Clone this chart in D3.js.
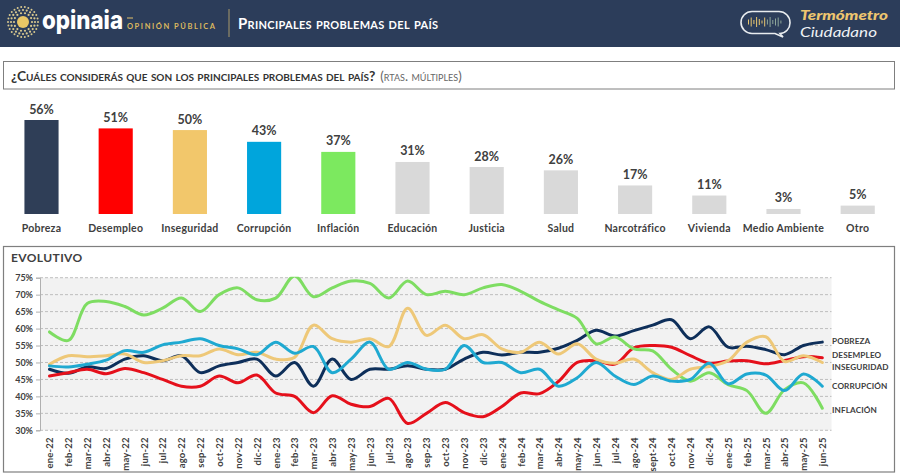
<!DOCTYPE html>
<html lang="es">
<head>
<meta charset="utf-8">
<title>Principales problemas del país</title>
<script src="https://cdn.jsdelivr.net/npm/d3@7/dist/d3.min.js"></script>
<style>
  html, body { margin: 0; padding: 0; background: #fff; }
  svg { display: block; font-family: Lato, "Open Sans", sans-serif; }
</style>
</head>
<body>
<svg id="chart" width="900" height="476"></svg>
<script>
// Current wave: share of mentions per problem
const problems = ["Pobreza", "Desempleo", "Inseguridad", "Corrupción", "Inflación", "Educación", "Justicia", "Salud", "Narcotráfico", "Vivienda", "Medio Ambiente", "Otro"];
const problemValues = [56, 51, 50, 43, 37, 31, 28, 26, 17, 11, 3, 5];
const problemColors = ["#2f3e57", "#ff0000", "#f2c76b", "#00a5dc", "#7ce95f", "#d9d9d9", "#d9d9d9", "#d9d9d9", "#d9d9d9", "#d9d9d9", "#d9d9d9", "#d9d9d9"];

// Monthly tracking
const months = ["ene-22","feb-22","mar-22","abr-22","may-22","jun-22","jul-22","ago-22","sep-22","oct-22","nov-22","dic-22",
  "ene-23","feb-23","mar-23","abr-23","may-23","jun-23","jul-23","ago-23","sep-23","oct-23","nov-23","dic-23",
  "ene-24","feb-24","mar-24","abr-24","may-24","jun-24","jul-24","ago-24","sept-24","oct-24","nov-24","dic-24",
  "ene-25","feb-25","mar-25","abr-25","may-25","jun-25"];
const pobreza = [48,46.8,48.7,48.2,51,52,50.5,52,47,49,50,51,46,50,43,51,45,48,48,49,48,48,51,53,52.2,53,53,54.2,56.5,59.5,57.8,59.4,61,62.6,57,60.5,54.5,54.8,53.8,52.3,55,56];
const desempleo = [46,47,48,46.7,48.2,47,45,43,43,46,44,46.3,41,40,35.2,40.2,37.7,37,39.4,32,35,38.2,35.2,34,37,41,40.8,44.4,50,50.5,49.5,54.3,55,54.5,52,49.8,50.4,50.5,49.6,50.6,51.7,51.4];
const inseguridad = [49.5,52,51.7,52,52.5,50,50.5,52,52,54,52.3,53,51,51.5,61,57,56,57,54.7,66,58,61,57,58.2,54,53,56,52.5,55.5,51,49.8,51,47,45,48,48.8,50.5,56,57.6,50.3,52,50];
const corrupcion = [49,48.7,49.5,50.7,53.5,53,55.2,56,57,55,54,52.3,56,52.7,54.7,47,51,56,48,50,48,48,55,50,50,47,48,43,45.5,50,46,43.5,46,44.5,45,49.8,43.7,46.6,46.3,41.7,46.6,43];
const inflacion = [59,56.5,67.4,68,66.5,64,66,69,65,70,72,68.5,69,75.5,69.4,72,74,73.3,69,74,70,71,70,72,73,71,68,65.5,63,55.5,57.5,54,53.4,48,44.5,47,43.5,41.7,35,42,44,36.5];

const trendSeries = [
  { name: "POBREZA", values: pobreza, color: "#0e2f5a", labelY: 341.5 },
  { name: "DESEMPLEO", values: desempleo, color: "#e5101b", labelY: 355.5 },
  { name: "INFLACIÓN", values: inflacion, color: "#7edd62", labelY: 410 },
  { name: "INSEGURIDAD", values: inseguridad, color: "#eec878", labelY: 367.5 },
  { name: "CORRUPCIÓN", values: corrupcion, color: "#1fa9d1", labelY: 386.5 }
];
const yTicks = [30, 35, 40, 45, 50, 55, 60, 65, 70, 75];

const svg = d3.select("#chart");
const ink = "#404040";

/* ---------- header band ---------- */
const header = svg.append("g");
header.append("rect").attr("width", 900).attr("height", 47).attr("fill", "#2c3d5a");

// Sun emblem: rings of small dots around a warm core
const sun = header.append("g").attr("transform", "translate(23,22)");
sun.append("circle").attr("r", 6).attr("fill", "#e9c766");
[[9, 14, 1.1], [12, 20, 1.1], [15, 26, 1]].forEach(([r, n, size]) => {
  sun.selectAll(null).data(d3.range(n)).join("circle")
    .attr("cx", i => r * Math.cos(i / n * 2 * Math.PI))
    .attr("cy", i => r * Math.sin(i / n * 2 * Math.PI))
    .attr("r", size).attr("fill", "#d9c98f");
});
header.append("text").attr("x", 42).attr("y", 29).attr("fill", "#fff")
  .attr("font-family", "Inter, Lato, sans-serif").attr("font-weight", 800).attr("font-size", 25.5)
  .attr("textLength", 81).attr("lengthAdjust", "spacingAndGlyphs").text("opinaia");
header.append("rect").attr("x", 127).attr("y", 17.5).attr("width", 6).attr("height", 1).attr("fill", "#e3c26a");
header.append("text").attr("x", 127).attr("y", 29).attr("fill", "#dcb95f")
  .attr("font-weight", 700).attr("font-size", 7.5).attr("textLength", 88).text("OPINIÓN PÚBLICA");
header.append("line").attr("x1", 229).attr("x2", 229).attr("y1", 9).attr("y2", 37)
  .attr("stroke", "#a89a6a").attr("stroke-width", 1);
header.append("text").attr("x", 238).attr("y", 29).attr("fill", "#fff")
  .attr("font-weight", 700).attr("font-size", 15).style("font-variant", "small-caps")
  .attr("textLength", 200).text("Principales problemas del país");

// "Termómetro Ciudadano" mark: speech bubble holding a small sound wave
header.append("path")
  .attr("d", "M752,11.5H779a11,11 0 0 1 11,11V23a10.5,10.5 0 0 1 -10,10.5L783,37L775,33.5H752a11,11 0 0 1 -11,-11a11,11 0 0 1 11,-11Z")
  .attr("fill", "none").attr("stroke", "#e8ecef").attr("stroke-width", 1.6);
const waveHeights = [5, 9, 4, 10, 6, 3, 9, 5, 10, 4, 7, 9, 3];
header.selectAll(null).data(waveHeights).join("line")
  .attr("x1", (d, i) => 748.5 + i * 2.7).attr("x2", (d, i) => 748.5 + i * 2.7)
  .attr("y1", d => 22 - d / 2).attr("y2", d => 22 + d / 2)
  .attr("stroke", (d, i) => i < 7 ? "#e8c66f" : "#8fa79a").attr("stroke-width", 1);
header.append("text").attr("x", 800).attr("y", 20).attr("fill", "#eec66f")
  .attr("font-style", "italic").attr("font-weight", 900).attr("font-size", 13)
  .attr("textLength", 88).attr("lengthAdjust", "spacingAndGlyphs").text("Termómetro");
header.append("text").attr("x", 800).attr("y", 36.5).attr("fill", "#eef1f4")
  .attr("font-style", "italic").attr("font-size", 13.5)
  .attr("textLength", 77).attr("lengthAdjust", "spacingAndGlyphs").text("Ciudadano");

/* ---------- question box ---------- */
svg.append("rect").attr("x", 3.5).attr("y", 61.5).attr("width", 891).attr("height", 27.5)
  .attr("fill", "#fff").attr("stroke", "#7f7f7f").attr("stroke-width", 1);
const question = svg.append("text").attr("x", 11).attr("y", 80.5).style("font-variant", "small-caps");
question.append("tspan").attr("fill", "#333").attr("font-weight", 700).attr("font-size", 13.8)
  .text("¿Cuáles considerás que son los principales problemas del país?");
question.append("tspan").attr("fill", "#666").attr("font-size", 13.2).attr("dx", 5).text("(rtas. múltiples)");

/* ---------- current-wave bars ---------- */
const xBar = d3.scaleBand().domain(problems).range([4.4, 894.8]).paddingInner(0.54).paddingOuter(0.27);
const yBar = d3.scaleLinear().domain([0, 56]).range([214, 120]);
const barData = problems.map((name, i) => ({ name, value: problemValues[i], color: problemColors[i] }));

svg.append("g").selectAll("rect").data(barData).join("rect")
  .attr("x", d => xBar(d.name)).attr("width", xBar.bandwidth())
  .attr("y", d => yBar(d.value)).attr("height", d => yBar(0) - yBar(d.value))
  .attr("fill", d => d.color);
svg.append("g").selectAll("text").data(barData).join("text")
  .attr("x", d => xBar(d.name) + xBar.bandwidth() / 2).attr("y", d => yBar(d.value) - 6.5)
  .attr("text-anchor", "middle").attr("fill", ink).attr("font-weight", 700).attr("font-size", 12.5)
  .text(d => d.value + "%");
svg.append("g").selectAll("text").data(barData).join("text")
  .attr("x", d => xBar(d.name) + xBar.bandwidth() / 2).attr("y", 232)
  .attr("text-anchor", "middle").attr("fill", ink).attr("font-weight", 700).attr("font-size", 10.5)
  .attr("letter-spacing", 0.25).text(d => d.name);

/* ---------- tracking panel ---------- */
svg.append("rect").attr("x", 3.5).attr("y", 246.5).attr("width", 891).attr("height", 225.5)
  .attr("fill", "#fff").attr("stroke", "#7f7f7f").attr("stroke-width", 1.2);
svg.append("text").attr("x", 11).attr("y", 262).attr("fill", ink)
  .attr("font-weight", 700).attr("font-size", 12).attr("letter-spacing", 0.4).text("EVOLUTIVO");

const x = d3.scalePoint().domain(months).range([49.5, 822.3]);
const y = d3.scaleLinear().domain([30, 75]).range([430.3, 277.7]);
const plotLeft = 40, plotRight = 831.5;

svg.append("rect").attr("x", plotLeft).attr("y", y(75)).attr("width", plotRight - plotLeft)
  .attr("height", y(30) - y(75)).attr("fill", "#f2f2f2");

// Lines stop at the top of the plot, as the value axis ends at 75%
svg.append("clipPath").attr("id", "plot-clip").append("rect")
  .attr("x", plotLeft).attr("y", y(75) - 1).attr("width", plotRight - plotLeft).attr("height", y(30) - y(75) + 1);

// Dashed horizontal guides
svg.append("g").selectAll("line").data(yTicks).join("line")
  .attr("x1", plotLeft).attr("x2", plotRight).attr("y1", d => y(d)).attr("y2", d => y(d))
  .attr("stroke", "#a6a6a6").attr("stroke-width", 0.7).attr("stroke-dasharray", "3 2");

const yAxis = svg.append("g").attr("transform", `translate(${plotLeft},0)`)
  .call(d3.axisLeft(y).tickValues(yTicks).tickSize(4).tickFormat(d => d + "%"));
yAxis.select(".domain").attr("stroke", "#b0b0b0");
yAxis.selectAll(".tick line").attr("stroke", "#b0b0b0");
yAxis.selectAll("text").attr("fill", ink).attr("font-family", "Lato, sans-serif")
  .attr("font-weight", 700).attr("font-size", 9);

const xAxis = svg.append("g").attr("transform", `translate(0,${y(30)})`)
  .call(d3.axisBottom(x).tickSize(0));
xAxis.select(".domain").remove();
xAxis.selectAll("text")
  .attr("transform", "rotate(-90)")
  .attr("x", -7).attr("y", 0).attr("dy", "0.35em")
  .attr("text-anchor", "end").attr("fill", ink)
  .attr("font-family", "Lato, sans-serif").attr("font-weight", 700).attr("font-size", 9.5)
  .attr("letter-spacing", 0.2);

const line = d3.line().x((d, i) => x(months[i])).y(d => y(d)).curve(d3.curveCatmullRom.alpha(0.5));

svg.append("g").attr("clip-path", "url(#plot-clip)")
  .attr("fill", "none").attr("stroke-width", 3).attr("stroke-linecap", "round").attr("stroke-linejoin", "round")
  .selectAll("path").data(trendSeries).join("path")
  .attr("d", d => line(d.values)).attr("stroke", d => d.color);

svg.append("g").selectAll("text").data(trendSeries).join("text")
  .attr("x", 832).attr("y", d => d.labelY).attr("dy", "0.35em")
  .attr("fill", ink).attr("font-weight", 700).attr("font-size", 8.2).attr("letter-spacing", 0.1)
  .text(d => d.name);
</script>
</body>
</html>
